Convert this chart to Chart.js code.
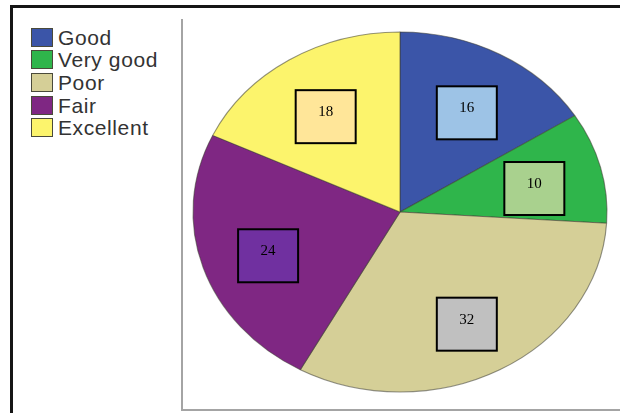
<!DOCTYPE html>
<html>
<head>
<meta charset="utf-8">
<script src="https://cdn.jsdelivr.net/npm/chart.js@4.4.1/dist/chart.umd.min.js"></script>
<style>
  body { margin: 0; width: 620px; height: 413px; overflow: hidden; background: #fff; position: relative; }
  #frame { position: absolute; left: 10px; top: 5px; right: -10px; bottom: -10px; border-left: 3px solid #151515; border-top: 3px solid #151515; }
  #axes { position: absolute; left: 181px; top: 19px; right: -10px; height: 390px; border-left: 2px solid #a4a4a4; border-bottom: 2px solid #a4a4a4; }
  #legend { position: absolute; left: 31px; top: 26px; margin: 0; padding: 0; list-style: none; font-family: "Liberation Sans", Arial, sans-serif; font-size: 21px; letter-spacing: 0.6px; color: #333; }
  #legend li { display: flex; align-items: center; height: 22.6px; }
  #legend .swatch { width: 20px; height: 17px; border: 1px solid #4a4a3a; margin-right: 5px; flex: none; }
  #legend span { line-height: 19px; }
  #chart { position: absolute; left: 0; top: 0; }
</style>
</head>
<body>
<div id="frame"></div>
<div id="axes"></div>
<ul id="legend"></ul>
<canvas id="chart" width="620" height="413"></canvas>
<script>
const categories = ['Good', 'Very good', 'Poor', 'Fair', 'Excellent'];
const counts = [16, 10, 32, 24, 18];
const sliceColors = ['#3b55a8', '#2fb54b', '#d5cf97', '#7f2783', '#fcf46c'];
const boxColors = ['#9dc3e6', '#a9d18e', '#c0c0c0', '#7030a0', '#ffe699'];

// pie is drawn as a flattened oval
const STRETCH_X = 1.15;

const ovalPie = {
  id: 'ovalPie',
  beforeDatasetsDraw(chart) {
    const arc = chart.getDatasetMeta(0).data[0];
    const ctx = chart.ctx;
    ctx.save();
    ctx.translate(arc.x, arc.y);
    ctx.scale(STRETCH_X, 1);
    ctx.translate(-arc.x, -arc.y);
  },
  afterDatasetsDraw(chart) {
    const ctx = chart.ctx;
    ctx.restore();

    // value boxes sit about two thirds out along each slice's middle
    chart.getDatasetMeta(0).data.forEach((arc, i) => {
      const mid = (arc.startAngle + arc.endAngle) / 2;
      const r = arc.outerRadius * 0.67;
      const x = arc.x + Math.cos(mid) * r * STRETCH_X;
      const y = arc.y + Math.sin(mid) * r;
      ctx.save();
      ctx.fillStyle = boxColors[i];
      ctx.fillRect(x - 30, y - 20, 60, 53);
      ctx.lineWidth = 2;
      ctx.strokeStyle = '#000';
      ctx.strokeRect(x - 30, y - 20, 60, 53);
      ctx.fillStyle = '#000';
      ctx.font = '15px "Liberation Serif", "Times New Roman", serif';
      ctx.textAlign = 'center';
      ctx.textBaseline = 'alphabetic';
      ctx.fillText(String(counts[i]), x, y + 6);
      ctx.restore();
    });
  }
};

function buildLegend() {
  const list = document.getElementById('legend');
  categories.forEach((name, i) => {
    const li = document.createElement('li');
    const sw = document.createElement('div');
    sw.className = 'swatch';
    sw.style.background = sliceColors[i];
    const label = document.createElement('span');
    label.textContent = name;
    li.appendChild(sw);
    li.appendChild(label);
    list.appendChild(li);
  });
}

function mainEvent() {
  buildLegend();
  const ctx = document.getElementById('chart');
  new Chart(ctx, {
    type: 'pie',
    data: {
      labels: categories,
      datasets: [{
        data: counts,
        backgroundColor: sliceColors,
        borderColor: 'rgba(60, 60, 50, 0.55)',
        borderWidth: 1,
        clip: false
      }]
    },
    options: {
      responsive: false,
      animation: false,
      devicePixelRatio: 1,
      radius: 180,
      layout: { padding: { left: 220, right: 40, top: 22, bottom: 11 } },
      plugins: {
        legend: { display: false },
        tooltip: { enabled: false }
      }
    },
    plugins: [ovalPie]
  });
}
document.addEventListener('DOMContentLoaded', () => mainEvent());
</script>
</body>
</html>
